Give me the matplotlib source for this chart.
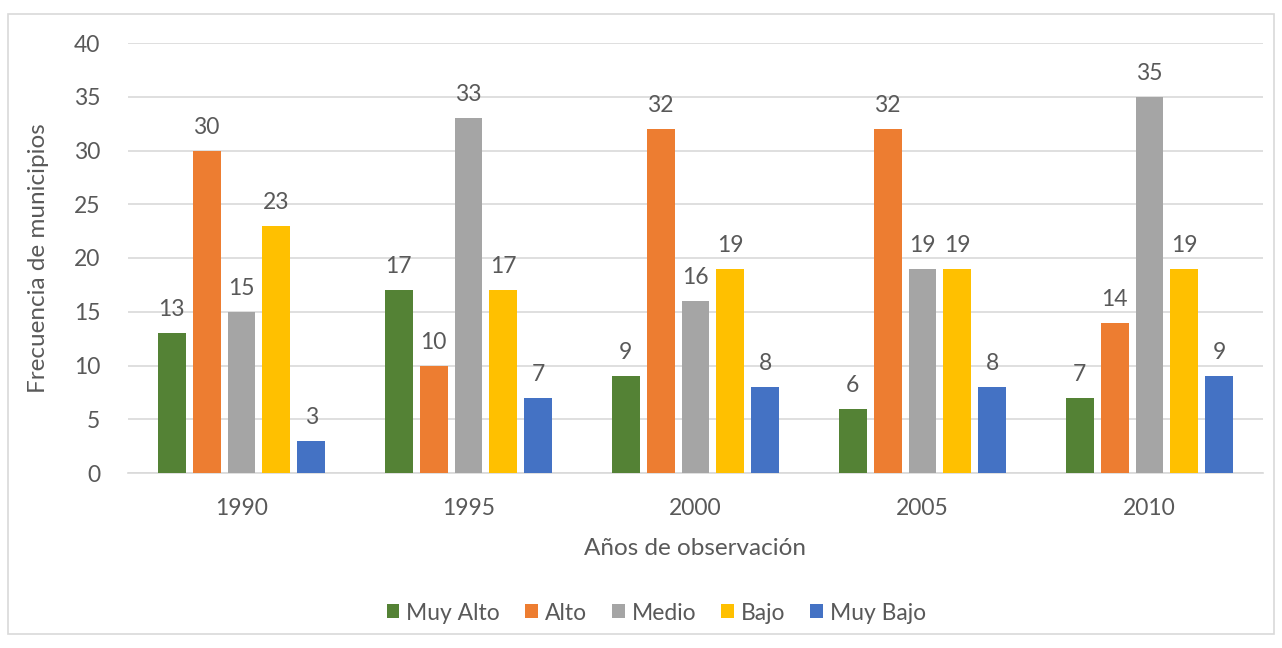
import numpy as np
from matplotlib import pyplot as plt
from matplotlib.patches import Rectangle

years = ["1990", "1995", "2000", "2005", "2010"]
series = ["Muy Alto", "Alto", "Medio", "Bajo", "Muy Bajo"]
muy_alto = [13, 17, 9, 6, 7]
alto = [30, 10, 32, 32, 14]
medio = [15, 33, 16, 19, 35]
bajo = [23, 17, 19, 19, 19]
muy_bajo = [3, 7, 8, 8, 9]
colors = ["#548235", "#ED7D31", "#A5A5A5", "#FFC000", "#4472C4"]

TEXT = "#595959"
plt.rcParams["font.family"] = ["Lato", "DejaVu Sans"]

fig = plt.figure(figsize=(12.82, 6.48), dpi=100)
fig.patches.append(Rectangle((8 / 1282, 1 - 634 / 648), 1266 / 1282, 620 / 648,
                             transform=fig.transFigure, fill=False,
                             edgecolor="#d9d9d9", linewidth=1.2))
ax = fig.add_axes([128 / 1282, 1 - 473 / 648, 1135 / 1282, 430 / 648])

x = np.arange(len(years))
width = 0.123
step = 0.154
for i, (name, vals) in enumerate(zip(series, [muy_alto, alto, medio, bajo, muy_bajo])):
    pos = x + (i - 2) * step
    ax.bar(pos, vals, width, color=colors[i], label=name, zorder=3)
    for px, v in zip(pos, vals):
        ax.text(px, v + 1.2, str(v), ha="center", va="bottom", fontsize=16.5, color=TEXT)

ax.set_xlim(-0.5, len(years) - 0.5)
ax.set_ylim(0, 40)
ax.set_yticks(range(0, 41, 5))
ax.set_xticks(x)
ax.set_xticklabels(years)
ax.grid(axis="y", color="#d9d9d9", linewidth=1.2, zorder=0)
for s in ["top", "right", "left"]:
    ax.spines[s].set_visible(False)
ax.spines["bottom"].set_color("#d9d9d9")
ax.spines["bottom"].set_linewidth(1.2)
ax.tick_params(length=0, labelsize=16.5, labelcolor=TEXT)
ax.tick_params(axis="x", pad=18)
ax.tick_params(axis="y", pad=20)
ax.set_xlabel("Años de observación", fontsize=17.5, color=TEXT, labelpad=14)
ax.set_ylabel("Frecuencia de municipios", fontsize=17.5, color=TEXT, labelpad=18)

# legend centred on the chart frame, below the axis title
handles, labels = ax.get_legend_handles_labels()
fig.legend(handles, labels, loc="center", bbox_to_anchor=(0.512, 1 - 613 / 648),
           ncol=5, frameon=False, fontsize=16.5, labelcolor=TEXT,
           handlelength=0.55, handleheight=0.55, handletextpad=0.3,
           columnspacing=1.1)

fig.savefig("out.png", dpi=100)
